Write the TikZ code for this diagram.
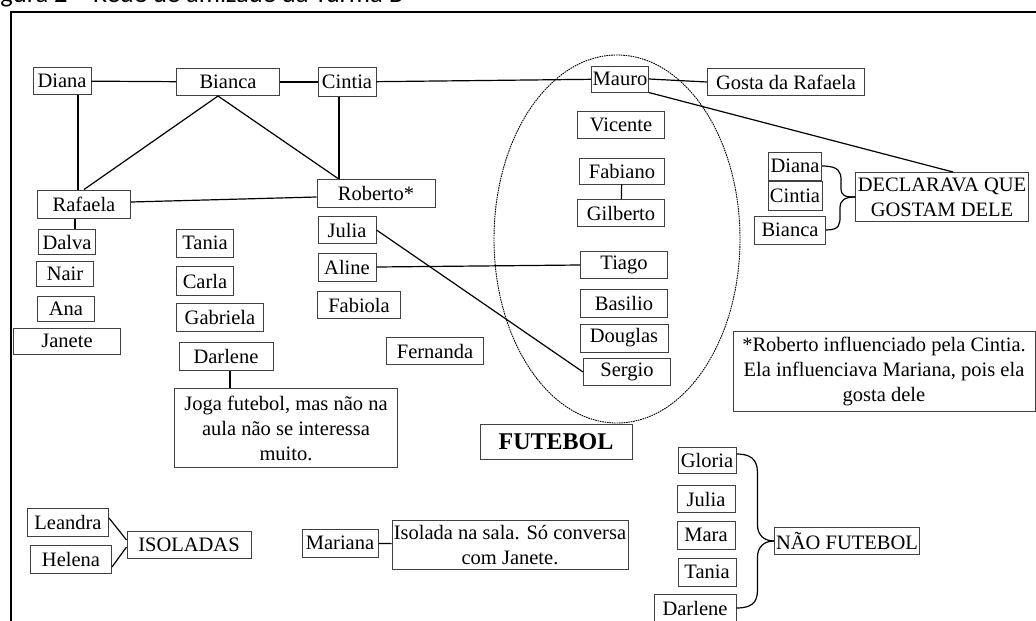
\documentclass[tikz,border=0pt]{standalone}
\usepackage{fontspec}
\setmainfont{Liberation Serif}
\newfontfamily\legendafont{Carlito}
\tikzset{
        x=1pt, y=-1pt,
        pessoa/.style={draw=black!75, line width=1pt, inner sep=1pt, minimum height=27, font=\fontsize{20.5}{25}\selectfont},
        nota/.style={pessoa, align=center},
        liga/.style={draw=black, line width=1.2pt},
        grupo/.style={draw=black, line width=0.9pt, dash pattern=on 1.6pt off 0.8pt},
        moldura/.style={draw=black, line width=2.2pt}
          }
\begin{document}
\begin{tikzpicture}
  \useasboundingbox (0,0) rectangle (1036,621);
  \node[anchor=base west, inner sep=0, font=\legendafont\fontsize{26.5}{30}\selectfont] (legenda) at (-18,2) {Figura 2 – Rede de amizade da Turma B};
  \draw[moldura] (1046,12) -| (11,631);

  \node[pessoa, minimum width=58] (diana) at (62,81) {Diana};
  \node[pessoa, minimum width=103] (bianca) at (228,82) {Bianca};
  \node[pessoa, minimum width=58, minimum height=29] (cintia) at (347,82) {Cintia};
  \node[pessoa, minimum width=56, minimum height=26] (mauro) at (620,79) {Mauro};
  \node[pessoa, minimum width=157] (gosta) at (786,82) {Gosta da Rafaela};
  \node[pessoa, minimum width=93, minimum height=28] (rafaela) at (84,204) {Rafaela};
  \node[pessoa, minimum width=118, minimum height=28] (roberto) at (376,193) {Roberto*};
  \node[pessoa, minimum width=58] (julia) at (347,230) {Julia};
  \node[pessoa, minimum width=58, minimum height=28] (aline) at (347,267) {Aline};
  \node[pessoa, minimum width=83] (fabiola) at (359,305) {Fabiola};
  \node[pessoa, minimum width=97] (fernanda) at (435,351) {Fernanda};

  \node[pessoa, minimum width=87] (vicente) at (621,125) {Vicente};
  \node[pessoa, minimum width=85, minimum height=26] (fabiano) at (622,171) {Fabiano};
  \node[pessoa, minimum width=87] (gilberto) at (621,213) {Gilberto};
  \node[pessoa, minimum width=87] (tiago) at (624,265) {Tiago};
  \node[pessoa, minimum width=87, minimum height=28] (basilio) at (624,303) {Basilio};
  \node[pessoa, minimum width=88, minimum height=28] (douglas) at (624,338) {Douglas};
  \node[pessoa, minimum width=87] (sergio) at (627,372) {Sergio};
  \node[pessoa, minimum width=152, minimum height=35, font=\fontsize{24}{28}\selectfont\bfseries] (futebol) at (556,442) {FUTEBOL};
  \draw[grupo] (617,239) ellipse [x radius=123, y radius=184];

  \node[pessoa, minimum width=57, minimum height=25] (dalva) at (67,242) {Dalva};
  \node[pessoa, minimum width=57, minimum height=25] (nair) at (65,274) {Nair};
  \node[pessoa, minimum width=57, minimum height=25] (ana) at (66,309) {Ana};
  \node[pessoa, minimum width=107, minimum height=26] (janete) at (67,341) {Janete};
  \node[pessoa, minimum width=57, minimum height=28] (tania) at (205,243) {Tania};
  \node[pessoa, minimum width=57, minimum height=29] (carla) at (205,281) {Carla};
  \node[pessoa, minimum width=87, minimum height=28] (gabriela) at (220,317) {Gabriela};
  \node[pessoa, minimum width=94, minimum height=28] (darlene) at (226,356) {Darlene};
  \node[nota, minimum width=223, minimum height=79] (joga) at (286,428) {Joga futebol, mas não na\\aula não se interessa\\muito.};

  \node[pessoa, minimum width=53, minimum height=28] (dianaR) at (795,166) {Diana};
  \node[pessoa, minimum width=54, minimum height=29] (cintiaR) at (795,196) {Cintia};
  \node[pessoa, minimum width=71, minimum height=28] (biancaR) at (790,230) {Bianca};
  \node[nota, minimum width=173, minimum height=49] (declarava) at (942,197) {DECLARAVA QUE\\GOSTAM DELE};
  \node[nota, minimum width=302, minimum height=80] (nota) at (884,371) {*Roberto influenciado pela Cintia.\\Ela influenciava Mariana, pois ela\\gosta dele};

  \node[pessoa, minimum width=81, minimum height=28] (leandra) at (68,522) {Leandra};
  \node[pessoa, minimum width=81, minimum height=28] (helena) at (71,559) {Helena};
  \node[pessoa, minimum width=124] (isoladas) at (189,545) {ISOLADAS};
  \node[pessoa, minimum width=76, minimum height=28] (mariana) at (340,543) {Mariana};
  \node[nota, minimum width=236, minimum height=49] (isolada) at (510,545) {Isolada na sala. Só conversa\\com Janete.};

  \node[pessoa, minimum width=58, minimum height=26] (gloria) at (707,460) {Gloria};
  \node[pessoa, minimum width=58] (juliaN) at (706,499) {Julia};
  \node[pessoa, minimum width=58, minimum height=28] (mara) at (706,535) {Mara};
  \node[pessoa, minimum width=58, minimum height=28] (taniaN) at (707,572) {Tania};
  \node[pessoa, minimum width=82] (darleneN) at (695,608) {Darlene};
  \node[pessoa, minimum width=145] (naofut) at (847,541) {NÃO FUTEBOL};

  \draw[liga] (diana) -- (bianca);
  \draw[liga] (bianca) -- (cintia);
  \draw[liga] (cintia) -- (mauro);
  \draw[liga] (mauro.east) -- (gosta.west);
  \draw[liga] ([xshift=16]diana.south) -- ([xshift=-6]rafaela.north);
  \draw[liga] ([xshift=-10]bianca.south) -- (rafaela.north);
  \draw[liga] ([xshift=-10]bianca.south) -- ([xshift=-38]roberto.north);
  \draw[liga] ([xshift=-8]cintia.south) -- ([xshift=-37]roberto.north);
  \draw[liga] ([yshift=2]rafaela.east) -- ([yshift=-4]roberto.west);
  \draw[liga] ([xshift=-9]rafaela.south) -- ([xshift=-9]rafaela.south |- dalva.north);
  \draw[liga] (fabiano) -- (gilberto);
  \draw[liga] (julia.east) -- (sergio.west);
  \draw[liga] (aline.east) -- (tiago.west);
  \draw[liga] (mauro.south east) -- ([xshift=11]declarava.north);
  \draw[liga] ([xshift=4]darlene.south) -- ([xshift=4]darlene.south |- joga.north);
  \draw[liga] ([yshift=4]leandra.east) -- ([yshift=5]isoladas.west);
  \draw[liga] ([yshift=-8]helena.east) -- ([yshift=-2]isoladas.west);
  \draw[liga] (mariana) -- (isolada);

  \draw[liga] (dianaR.east) .. controls +(17,0) and +(0,-8) .. ++(19,14) -- ++(0,8) .. controls +(0,8) and +(-10,0) .. (declarava.west);
  \draw[liga] (biancaR.east) .. controls +(14,0) and +(0,8) .. ++(14,-14) -- ++(0,-8) .. controls +(0,-8) and +(-10,0) .. (declarava.west);
  \draw[liga] ([yshift=6]gloria.east) .. controls +(20,0) and +(0,-10) .. ++(21,21) -- ++(0,50) .. controls +(0,10) and +(-10,0) .. (naofut.west);
  \draw[liga] (darleneN.east) .. controls +(21,0) and +(0,10) .. ++(21,-21) -- ++(0,-30) .. controls +(0,-10) and +(-10,0) .. (naofut.west);
\end{tikzpicture}
\end{document}
